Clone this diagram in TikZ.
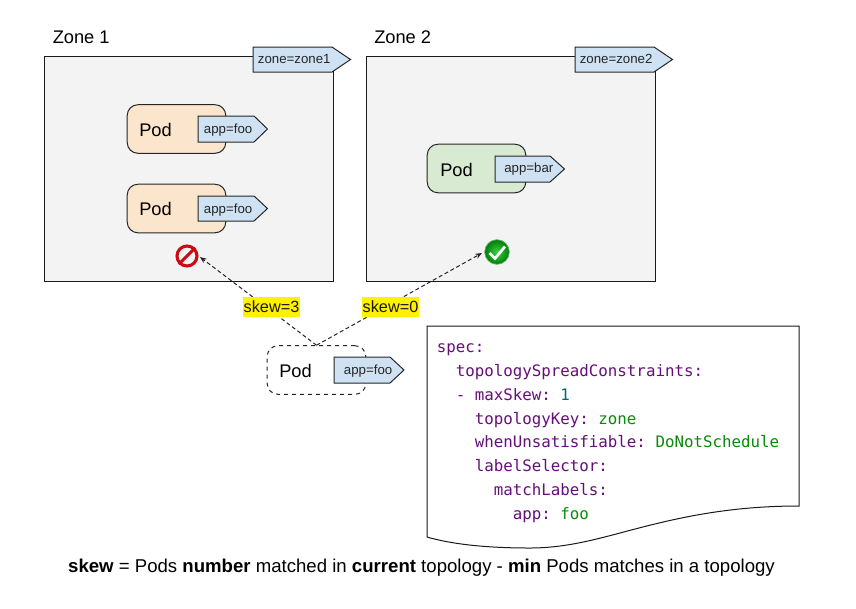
\documentclass[tikz,border=0pt]{standalone}
\usepackage{fontspec}
\setmainfont{Liberation Sans}
\setmonofont{DejaVu Sans Mono}
\usetikzlibrary{arrows.meta}
\definecolor{zonefill}{HTML}{F3F3F3}
\definecolor{podorange}{HTML}{FCE5CD}
\definecolor{podgreen}{HTML}{D9EAD3}
\definecolor{tagblue}{HTML}{CFE2F3}
\definecolor{codepurple}{HTML}{660E7A}
\definecolor{codegreen}{HTML}{0A8A0A}
\definecolor{codeteal}{HTML}{006E6E}
\definecolor{nored}{HTML}{CC0A14}
\definecolor{okin}{HTML}{3CD23C}
\definecolor{okout}{HTML}{007D0A}
\newcommand{\fs}[1]{\fontsize{#1}{#1}\selectfont}
\newcommand{\kw}[1]{\textcolor{codepurple}{#1}}
\newcommand{\vl}[1]{\textcolor{codegreen}{#1}}
\newcommand{\tagshape}[5]{% x1 y1 notch x2 y2
  \draw[tagline] (#1,#2) -- (#3,#2) -- (#4,{(#2+#5)/2}) -- (#3,#5) -- (#1,#5) -- cycle;
}
\tikzset{
  x=0.75pt,y=-0.75pt,
  tagline/.style={draw=black!85,fill=tagblue,line width=0.75pt,line join=miter},
  zonebox/.style={draw=black!90,fill=zonefill,line width=0.75pt,inner sep=0,minimum width=217pt,minimum height=168.4pt},
  podbox/.style={draw=black!85,line width=0.75pt,rounded corners=8pt,inner sep=0,minimum width=73.9pt,minimum height=36.4pt},
  big/.style={anchor=base west,inner sep=0,font=\fs{13.7}},
  tagtext/.style={anchor=base west,inner sep=0,font=\fs{9.95},text=black!85},
  skewlabel/.style={fill=yellow,inner xsep=0.6pt,inner ysep=0,minimum height=15pt,font=\fs{12.2},text=black!90},
  codeline/.style={anchor=base west,inner sep=0,font=\ttfamily\fs{11.85}},
  conn/.style={densely dashed,draw=black!85,line width=0.75pt,-{Stealth[length=5pt,width=4pt]}},
}
\begin{document}
\begin{tikzpicture}
\useasboundingbox (0,0) rectangle (856,608);
% zones
\node[zonebox] (zone1) at (188.75,168.75) {};
\node[zonebox] (zone2) at (510.75,168.75) {};
\node[big] (zone1t) at (52.5,43) {Zone 1};
\node[big] (zone2t) at (374,43) {Zone 2};
\tagshape{253}{47}{332}{350.5}{72}
\tagshape{575}{47}{654}{672.5}{72}
\node[tagtext] (zone1tag) at (257.7,63) {zone=zone1};
\node[tagtext] (zone2tag) at (579.5,63) {zone=zone2};
% pods
\node[podbox,fill=podorange] (pod1) at (176.5,129) {};
\node[big] (pod1t) at (139,136) {Pod};
\tagshape{198}{116}{254}{267.5}{142}
\node[tagtext] (pod1tag) at (203.7,133) {app=foo};
\node[podbox,fill=podorange] (pod2) at (176.5,208.5) {};
\node[big] (pod2t) at (139,215) {Pod};
\tagshape{198}{196}{254}{267.5}{221}
\node[tagtext] (pod2tag) at (203.7,213) {app=foo};
\node[podbox,fill=podgreen] (pod3) at (476.5,168.5) {};
\node[big] (pod3t) at (440,176) {Pod};
\tagshape{495}{156}{550}{564.5}{182}
\node[tagtext] (pod3tag) at (504,172.5) {app=bar};
\node[podbox,dashed,fill=white] (pod4) at (316.5,370) {};
\node[big] (pod4t) at (279,377) {Pod};
\tagshape{334}{357}{390}{404}{383}
\node[tagtext] (pod4tag) at (343.7,374.5) {app=foo};
% status icons
\node[circle,draw=nored,line width=2.3pt,inner sep=0,minimum size=15pt] (nosign) at (187,256) {};
\draw[nored,line width=2.3pt] (nosign.45) -- (nosign.225);
\node[circle,inner sep=0,minimum size=18.5pt,draw=okout!60,line width=0.5pt,inner color=okin,outer color=okout] (oksign) at (497,252) {};
\coordinate (c1) at (489.5,253);
\coordinate (c2) at (495,258.5);
\coordinate (c3) at (505,246.5);
\draw[white,line width=2pt,line join=miter] (c1) -- (c2) -- (c3);
% connectors
\coordinate (noend) at (200,257);
\coordinate (okend) at (482,253);
\draw[conn] (pod4.north) -- (noend);
\draw[conn] (pod4.north) -- (okend);
\node[skewlabel] (skew3) at (271.5,307) {skew=3};
\node[skewlabel] (skew0) at (390.5,307) {skew=0};
% document
\draw[draw=black!90,fill=white,line width=0.75pt] (427,326) -- (799,326) -- (799,506)
  .. controls (725,506) and (672,519) .. (620,533)
  .. controls (590,541) and (562,548) .. (530,548)
  .. controls (498,548) and (458,546) .. (427,537) -- cycle;
\node[codeline] (l1) at (436.5,352) {\kw{spec:}};
\node[codeline] (l2) at (455.5,376) {\kw{topologySpreadConstraints:}};
\node[codeline] (l3) at (455.5,400) {\kw{- maxSkew:} \textcolor{codeteal}{1}};
\node[codeline] (l4) at (474.5,424) {\kw{topologyKey:} \vl{zone}};
\node[codeline] (l5) at (474.5,447.5) {\kw{whenUnsatisfiable:} \vl{DoNotSchedule}};
\node[codeline] (l6) at (474.5,471.5) {\kw{labelSelector:}};
\node[codeline] (l7) at (493.5,495.5) {\kw{matchLabels:}};
\node[codeline] (l8) at (512.5,519.5) {\kw{app:} \vl{foo}};
% caption
\node[anchor=base,inner sep=0,font=\fs{13.95}] (caption) at (421.5,572) {\textbf{skew} = Pods \textbf{number} matched in \textbf{current} topology - \textbf{min} Pods matches in a topology};
\end{tikzpicture}
\end{document}
